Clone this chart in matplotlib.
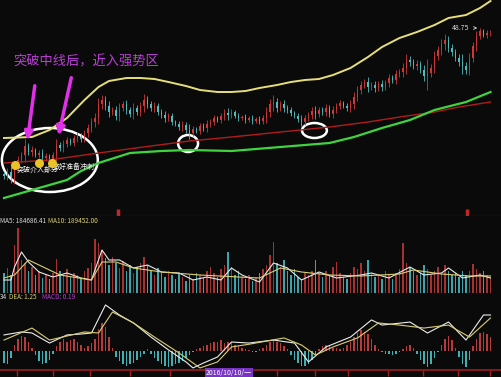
import numpy as np
import matplotlib.pyplot as plt
from matplotlib.patches import Ellipse

plt.rcParams['font.family'] = ['Noto Sans CJK SC', 'DejaVu Sans']

########################################################
# Data
########################################################

first_open = 34.15
closes = [
    33.95, 34.35, 33.75, 34.75, 35.55, 36.05, 36.95, 36.35, 36.55, 36.05,
    36.25, 35.75, 35.95, 35.65, 36.05, 37.05, 36.75, 37.15, 37.55, 37.25,
    37.75, 37.95, 37.65, 38.25, 38.75, 39.35, 39.75, 41.15, 41.55, 40.95,
    40.35, 40.55, 39.95, 40.75, 41.15, 40.55, 40.15, 40.75, 40.35, 40.95,
    41.55, 41.15, 40.75, 40.95, 40.35, 40.05, 39.75, 39.95, 39.35, 39.15,
    38.85, 39.05, 38.55, 38.25, 38.65, 38.45, 38.95, 38.75, 39.15, 39.35,
    39.75, 39.55, 39.95, 40.25, 40.05, 40.35, 39.95, 39.75, 39.85, 39.55,
    39.75, 39.45, 39.65, 39.45, 39.75, 40.35, 41.15, 41.35, 40.75, 41.15,
    40.75, 40.55, 40.25, 39.95, 39.65, 39.35, 39.75, 40.05, 40.45, 40.15,
    40.55, 40.35, 40.75, 40.15, 40.55, 40.95, 41.25, 40.95, 40.75, 41.15,
    41.85, 42.55, 43.05, 43.35, 42.85, 43.05, 42.75, 43.15, 42.85, 43.25,
    43.75, 43.55, 44.15, 44.35, 44.75, 45.55, 45.35, 44.95, 45.15, 44.55,
    43.95, 44.25, 44.75, 45.95, 46.55, 47.15, 47.55, 46.75, 46.35, 45.75,
    45.35, 44.95, 44.55, 45.75, 46.95, 47.95, 48.45, 48.05, 48.25, 48.30,
]
shadow = [
    0.3, 0.4, 0.5, 0.6, 0.4, 0.3, 0.7, 0.3, 0.4, 0.2, 0.3, 0.4, 0.3, 0.2, 0.3, 0.6, 0.3, 0.4, 0.3, 0.2,
    0.3, 0.4, 0.3, 0.3, 0.4, 0.4, 0.5, 0.6, 0.5, 0.4, 0.5, 0.3, 0.4, 0.5, 0.3, 0.4, 0.3, 0.5, 0.3, 0.4,
    0.6, 0.4, 0.3, 0.4, 0.3, 0.3, 0.4, 0.3, 0.3, 0.2, 0.3, 0.4, 0.3, 0.6, 0.3, 0.2, 0.3, 0.3, 0.4, 0.3,
    0.3, 0.2, 0.3, 0.4, 0.5, 0.3, 0.2, 0.3, 0.2, 0.3, 0.2, 0.3, 0.2, 0.3, 0.3, 0.5, 0.5, 0.7, 0.4, 0.3,
    0.4, 0.3, 0.3, 0.2, 0.3, 0.4, 0.3, 0.3, 0.4, 0.5, 0.3, 0.3, 0.4, 0.3, 0.4, 0.3, 0.3, 0.2, 0.3, 0.4,
    0.5, 0.4, 0.4, 0.3, 0.5, 0.3, 0.4, 0.3, 0.4, 0.3, 0.4, 0.3, 0.4, 0.3, 0.5, 0.6, 0.4, 0.3, 0.4, 0.3,
    0.5, 1.4, 0.4, 0.5, 0.4, 0.5, 0.6, 0.4, 0.4, 0.3, 0.4, 0.8, 0.4, 0.5, 0.4, 0.5, 0.3, 0.2, 0.3, 0.3,
]

# Bollinger bands (sampled at candle indices)
upper_idx = [0, 8, 13, 18, 23, 27, 30, 35, 39, 43, 47, 52, 56, 61, 65, 69, 73, 78, 82, 86,
             90, 94, 99, 104, 108, 113, 118, 123, 127, 132, 136, 139]
upper_val = [37.75, 37.85, 38.55, 39.75, 41.55, 42.85, 43.45, 43.75, 43.75, 43.65,
             43.35, 42.95, 42.55, 42.35, 42.35, 42.45, 42.75, 43.05, 43.35, 43.55,
             43.65, 44.05, 44.75, 45.85, 46.85, 47.75, 48.35, 49.05, 49.75, 50.05,
             50.75, 51.45]
mid_idx = [0, 13, 27, 42, 53, 65, 79, 93, 104, 113, 123, 130, 139]
mid_val = [35.25, 35.55, 36.25, 36.95, 37.45, 37.85, 38.35, 38.85, 39.35, 39.85, 40.35, 40.85, 41.35]
lower_idx = [0, 8, 18, 22, 27, 36, 45, 53, 65, 79, 93, 100, 108, 116, 123, 132, 139]
lower_val = [31.75, 32.55, 33.55, 34.45, 35.25, 36.25, 36.45, 36.55, 36.45, 36.85,
             37.25, 37.85, 38.75, 39.55, 40.55, 41.35, 42.35]

# Volume (thousand shares)
volume = [
    200, 250, 180, 480, 650, 330, 300, 220, 260, 180,
    220, 150, 180, 140, 200, 340, 220, 180, 240, 160,
    200, 180, 150, 220, 250, 300, 540, 500, 430, 350,
    280, 360, 300, 250, 320, 220, 280, 200, 260, 300,
    360, 280, 220, 180, 250, 200, 160, 220, 180, 140,
    200, 160, 120, 180, 140, 200, 180, 150, 220, 260,
    200, 160, 240, 280, 410, 260, 180, 220, 160, 140,
    180, 120, 150, 200, 240, 280, 380, 510, 300, 260,
    330, 220, 180, 240, 160, 140, 200, 180, 220, 330,
    200, 160, 220, 180, 260, 310, 200, 160, 140, 200,
    260, 240, 300, 220, 330, 200, 160, 180, 140, 220,
    180, 140, 200, 240, 500, 300, 260, 220, 180, 200,
    280, 240, 180, 220, 260, 200, 280, 220, 180, 200,
    160, 220, 180, 220, 290, 240, 200, 220, 180, 160,
]
ma5_idx = [0, 2, 3, 5, 7, 10, 14, 18, 22, 25, 28, 30, 33, 37, 41, 45, 50, 54, 58, 62,
           65, 68, 73, 77, 81, 85, 90, 95, 102, 105, 110, 116, 120, 125, 127, 131, 136, 139]
ma5_val = [130, 130, 260, 410, 310, 210, 160, 200, 150, 130, 430, 330, 330, 250, 280, 210, 200, 130, 160, 130,
           250, 180, 110, 300, 250, 130, 210, 150, 180, 200, 150, 260, 180, 200, 250, 150, 180, 150]
ma10_idx = [0, 3, 7, 10, 16, 25, 28, 32, 37, 45, 56, 67, 73, 79, 85, 93, 102, 113, 117, 125, 133, 139]
ma10_val = [150, 180, 330, 280, 180, 130, 310, 310, 250, 210, 180, 160, 150, 250, 210, 180, 170, 190, 230, 190, 170, 170]

# MACD
macd_hist = [
    -0.8, -0.9, -0.5, 0.4, 0.8, 1.0, 0.9, 0.6, 0.2, -0.3,
    -0.7, -0.9, -0.8, -0.6, -0.2, 0.3, 0.6, 0.8, 0.6, 0.7,
    0.8, 0.6, 0.4, 0.2, 0.3, 0.5, 0.8, 1.5, 1.9, 1.6,
    0.9, 0.2, -0.4, -0.7, -0.9, -1.0, -0.9, -0.8, -0.6, -0.4,
    -0.2, 0.1, -0.2, -0.5, -0.7, -0.9, -1.0, -1.1, -1.0, -0.9,
    -0.8, -0.7, -0.5, -0.3, -0.1, 0.1, 0.2, 0.3, 0.4, 0.5,
    0.6, 0.6, 0.7, 0.5, 0.6, 0.5, 0.4, 0.3, 0.2, 0.1,
    0.05, -0.1, -0.1, 0.1, 0.2, 0.4, 0.6, 0.7, 0.6, 0.5,
    0.3, 0.1, -0.3, -0.6, -0.8, -1.0, -1.0, -0.9, -0.6, -0.3,
    0.1, 0.3, 0.4, 0.3, 0.2, 0.2, 0.1, 0.2, 0.4, 0.6,
    0.9, 1.2, 1.4, 1.3, 1.1, 0.8, 0.4, 0.1, -0.1, -0.2,
    -0.2, -0.3, -0.2, -0.1, 0.1, 0.3, 0.4, 0.2, -0.2, -0.6,
    -0.9, -1.1, -0.9, -0.5, -0.1, 0.4, 0.8, 1.0, 0.7, 0.2,
    -0.4, -0.9, -1.1, -0.6, 0.3, 0.8, 1.2, 1.3, 1.1, 0.9,
]
dif_idx = [0, 5, 8, 13, 18, 22, 25, 29, 33, 37, 42, 47, 52, 54, 57, 61, 65, 70, 77, 83,
           87, 92, 99, 105, 108, 116, 121, 127, 132, 137, 139]
dif_val = [1.07, 1.27, 1.2, 0.53, 1.07, 1.13, 1.2, 3.07, 2.4, 1.87, 0.93, 0.07, -0.73, -1.13, -0.8,
           -0.4, 0.6, 0.53, 0.73, 0.53, -0.73, 0.27, 0.93, 2.07, 1.73, 1.93, 1.2, 1.93, 0.73, 2.4, 2.4]
dea_idx = [0, 8, 13, 23, 27, 31, 37, 43, 50, 56, 61, 65, 70, 80, 85, 89, 94, 101, 107, 113,
           120, 127, 133, 139]
dea_val = [0.73, 1.53, 0.73, 1.27, 1.2, 2.6, 1.87, 0.93, -0.13, -1.13, -0.73, 0.27, 0.45, 0.87,
           0.4, -0.27, 0.27, 0.87, 1.87, 1.73, 1.53, 1.73, 0.93, 2.2]

month_ticks = [3.7, 14, 24.6, 36, 47.4, 78, 89, 98.3, 109.7, 119.7, 129.7, 138.9]
flag_ticks = [32.6, 132.3]

# annotations: (index, price)
dots = [(3.1, 35.05), (10, 35.25), (13.7, 35.25)]
ellipses = [((13.1, 35.55), 27.4, 6.4), ((52.6, 37.2), 5.7, 1.7), ((88.7, 38.5), 7.1, 1.5)]
arrows = [((8.9, 43.25), (6.6, 37.25)), ((19.4, 44.05), (15.4, 37.75))]

########################################################
# Figure
########################################################

BG = '#0b0a0a'
RED = '#cc3838'
CYAN = '#4fbcbc'
DARKRED = '#9e1c1c'
W, H = 501, 377

fig = plt.figure(figsize=(W / 100, H / 100), dpi=100, facecolor=BG)

def px_axes(top, bottom):
    ax = fig.add_axes([0, 1 - bottom / H, 1, (bottom - top) / H])
    ax.set_facecolor(BG)
    ax.set_xlim(-1.14, 142.0)
    for s in ax.spines.values():
        s.set_visible(False)
    ax.set_yticks([])
    ax.set_xticks([])
    return ax

ax_p = px_axes(0, 216)
ax_v = px_axes(216, 293)
ax_m = px_axes(293, 370)

idx = np.arange(len(closes))
c = np.array(closes)
o = np.r_[first_open, c[:-1]]
sh = np.array(shadow)
hi = np.maximum(o, c) + sh
lo = np.minimum(o, c) - sh
up = c >= o
cols = np.where(up, RED, CYAN)

# price panel
ax_p.set_ylim(29.95, 51.55)
ax_p.vlines(idx, lo, hi, colors=cols, lw=0.6)
ax_p.bar(idx, np.maximum(np.abs(c - o), 0.05), bottom=np.minimum(o, c), width=0.55, color=cols)
ax_p.plot(upper_idx, upper_val, color='#e6df78', lw=1.4)
ax_p.plot(mid_idx, mid_val, color='#b01c1c', lw=1.0)
ax_p.plot(lower_idx, lower_val, color='#3fd43f', lw=1.6)

ax_p.spines['bottom'].set_visible(True)
ax_p.spines['bottom'].set_color(DARKRED)
ax_p.set_xticks(flag_ticks)
ax_p.tick_params(axis='x', direction='in', length=5, width=2.5, color='#c02828', labelbottom=False)

for (cx, cy), w, h in ellipses:
    ax_p.add_patch(Ellipse((cx, cy), w, h, fill=False, ec='white', lw=1.8))

for start, end in arrows:
    ax_p.annotate('', xy=end, xytext=start,
                  arrowprops=dict(arrowstyle='-|>', color='#e030e8', lw=2.5, mutation_scale=12))

ax_p.text(2.6, 45.35, '突破中线后，近入强势区', color='#b93fd6', fontsize=9.5, va='center', ha='left')

dx, dy = zip(*dots)
ax_p.scatter(dx, dy, s=30, color='#e8c428', zorder=5)
ax_p.text(3.7, 34.55, '突破介入部分', color='white', fontsize=5, va='center', ha='left')
ax_p.text(14.0, 34.85, '做好准备冲刺', color='white', fontsize=5, va='center', ha='left')

ax_p.annotate('48.75', xy=(136, 48.75), xytext=(128, 48.75), color='#d8d8d8', fontsize=5,
              va='center', ha='left',
              arrowprops=dict(arrowstyle='->', color='#d8d8d8', lw=0.6))

# volume panel
ax_v.set_ylim(0, 770)
vcols = np.where(up, '#a83030', '#3ca4aa')
ax_v.bar(idx, volume, width=0.45, color=vcols)
ax_v.plot(ma5_idx, ma5_val, color='#e8e8e8', lw=0.8)
ax_v.plot(ma10_idx, ma10_val, color='#d8cf72', lw=0.8)

# macd panel
ax_m.set_ylim(-1.267, 3.867)
hist = np.array(macd_hist)
ax_m.bar(idx, hist, width=0.4, color=np.where(hist >= 0, '#b83a3a', '#3fb0b4'))
ax_m.plot(dif_idx, dif_val, color='#ececec', lw=0.8)
ax_m.plot(dea_idx, dea_val, color='#d8cf72', lw=0.8)
ax_m.spines['bottom'].set_visible(True)
ax_m.spines['bottom'].set_color(DARKRED)
ax_m.spines['bottom'].set_linewidth(1.2)
ax_m.set_xticks(month_ticks)
ax_m.tick_params(axis='x', direction='out', length=4, width=1, color='#a02020', labelbottom=False)

# labels
def ftext(x, y, s, color, **kw):
    fig.text(x / W, 1 - y / H, s, color=color, fontsize=4.6, va='center', ha='left', **kw)

ftext(0, 221, 'MA5: 184686.41', '#d8d8d8')
ftext(48, 221, 'MA10: 189452.00', '#d8d072')
ftext(0, 297, '34', '#d8d8d8')
ftext(9, 297, 'DEA: 1.25', '#d8d072')
ftext(42, 297, 'MACD: 0.19', '#b540d0')
fig.text(206 / W, 1 - 373.5 / H, '2016/10/10/一', color='white', fontsize=5, va='center', ha='left',
         bbox=dict(boxstyle='square,pad=0.15', fc='#7a34c4', ec='none'))

fig.savefig('out.png', dpi=100, facecolor=BG)
